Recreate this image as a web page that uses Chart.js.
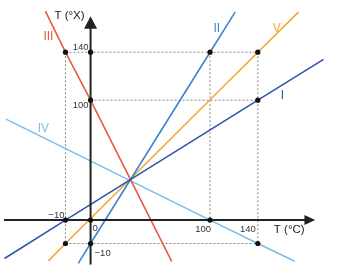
<!DOCTYPE html>
<html>
<head>
<meta charset="utf-8">
<script src="https://cdn.jsdelivr.net/npm/chart.js@4.4.0/dist/chart.umd.min.js"></script>
<style>
  html, body { margin: 0; padding: 0; background: #fff; }
  #wrap { width: 342px; height: 273px; position: relative; }
</style>
</head>
<body>
<div id="wrap"><canvas id="graf"></canvas></div>
<script>
// tick values on each axis
const xTicks = [-10, 100, 140];
const yTicks = [140, 100, -10];

// the five thermometer lines (°C, °X), ends
const seriesNames = ['I', 'II', 'III', 'IV', 'V'];
const lineI   = [[-34.3, -16.4], [-10, 0], [140, 100], [195, 134]];
const lineII  = [[-4.9, -18.5], [0, -10], [100, 140], [121, 173.4]];
const lineIII = [[-18, 174.3], [-10, 140], [0, 100], [67.9, -17.6]];
const lineIV  = [[-33.7, 84.2], [100, 0], [140, -10], [170.9, -17.6]];
const lineV   = [[-16.8, -17.4], [-10, -10], [140, 140], [174, 173.4]];

// marked points
const marked = [[-10, 140], [0, 140], [100, 140], [140, 140], [0, 100], [140, 100],
  [-10, 0], [0, 0], [100, 0], [-10, -10], [0, -10], [140, -10]];

// dashed helper lines
const guides = [
  [[-10, 140], [140, 140]],
  [[0, 100], [140, 100]],
  [[-10, -10], [140, -10]],
  [[-10, 140], [-10, -10]],
  [[100, 140], [100, 0]],
  [[140, 140], [140, -10]]
];

const colors = ['#2f55ad', '#3b86cf', '#ea5843', '#7bbfe8', '#f5a634'];

// the drawing is not to scale below zero: negative values are stretched
class BentScale extends Chart.LinearScale {
  static id = 'bent';
  static defaults = Chart.LinearScale.defaults;
  bend(v) { return v < 0 ? v * this.options.stretch : v; }
  unbend(v) { return v < 0 ? v / this.options.stretch : v; }
  getPixelForValue(value) {
    const lo = this.bend(this.min), hi = this.bend(this.max);
    return this.getPixelForDecimal((this.bend(value) - lo) / (hi - lo));
  }
  getValueForPixel(pixel) {
    const lo = this.bend(this.min), hi = this.bend(this.max);
    return this.unbend(lo + this.getDecimalForPixel(pixel) * (hi - lo));
  }
}
Chart.register(BentScale);

const pts = arr => arr.map(p => ({ x: p[0], y: p[1] }));

const datasets = [];
datasets.push({ data: pts(marked), pointRadius: 2.6, pointBackgroundColor: '#111', pointBorderWidth: 0, showLine: false });
// axes
datasets.push({ data: pts([[-34.5, 0], [180, 0]]), showLine: true, borderColor: '#222', borderWidth: 2, pointRadius: 0 });
datasets.push({ data: pts([[0, -19], [0, 160]]), showLine: true, borderColor: '#222', borderWidth: 2, pointRadius: 0 });
[lineI, lineII, lineIII, lineIV, lineV].forEach((l, i) => {
  datasets.push({ label: seriesNames[i], data: pts(l), showLine: true, borderColor: colors[i], borderWidth: 1.6, pointRadius: 0 });
});
guides.forEach(g => {
  datasets.push({ data: pts(g), showLine: true, borderColor: '#8a8a8a', borderWidth: 1, borderDash: [2, 2], pointRadius: 0 });
});

const txt = {
  id: 'txt',
  afterDatasetsDraw(chart) {
    const { ctx, scales: { x, y } } = chart;
    const X = v => x.getPixelForValue(v), Y = v => y.getPixelForValue(v);
    ctx.save();
    ctx.fillStyle = '#222';
    // arrow heads
    ctx.beginPath();
    ctx.moveTo(X(188), Y(0)); ctx.lineTo(X(179), Y(0) - 5); ctx.lineTo(X(179), Y(0) + 5); ctx.closePath();
    ctx.fill();
    ctx.beginPath();
    ctx.moveTo(X(0), Y(170)); ctx.lineTo(X(0) - 6.5, Y(159.5)); ctx.lineTo(X(0) + 6.5, Y(159.5)); ctx.closePath();
    ctx.fill();

    ctx.font = '9.5px "Liberation Sans", Arial, sans-serif';
    ctx.fillStyle = '#333';
    ctx.textBaseline = 'alphabetic';
    ctx.textAlign = 'right';
    ctx.fillText('\u221210', X(xTicks[0]) - 1, Y(0) - 2);
    ctx.fillText(String(xTicks[1]), X(xTicks[1]) + 1, Y(0) + 11.5);
    ctx.fillText(String(xTicks[2]), X(xTicks[2]) - 2, Y(0) + 11.5);
    ctx.fillText(String(yTicks[0]), X(0) - 2, Y(yTicks[0]) - 2.5);
    ctx.fillText(String(yTicks[1]), X(0) - 2, Y(yTicks[1]) + 7.5);
    ctx.textAlign = 'left';
    ctx.fillText('\u221210', X(0) + 4, Y(yTicks[2]) + 12.5);
    ctx.fillText('0', X(0) + 2, Y(0) + 10.5);

    ctx.font = '11.5px "Liberation Sans", Arial, sans-serif';
    ctx.fillStyle = '#222';
    ctx.textAlign = 'center';
    ctx.fillText('T (\u00b0X)', X(-8.4), Y(168));
    ctx.fillText('T (\u00b0C)', X(166.3), Y(-5.4));

    ctx.font = '12px "Liberation Sans", Arial, sans-serif';
    const spots = [[160.6, 100.8], [105.6, 157.2], [-16.8, 150.4], [-18.8, 73.5], [155.9, 157.2]];
    seriesNames.forEach((n, i) => {
      ctx.fillStyle = colors[i];
      ctx.fillText(n, X(spots[i][0]), Y(spots[i][1]));
    });
    ctx.restore();
  }
};

new Chart(document.getElementById('graf'), {
  type: 'scatter',
  data: { datasets: datasets },
  options: {
    animation: false,
    responsive: true,
    maintainAspectRatio: false,
    events: [],
    layout: { padding: 0 },
    plugins: { legend: { display: false }, tooltip: { enabled: false } },
    scales: {
      x: { type: 'bent', stretch: 2.1, min: -34.5, max: 207.1, display: false },
      y: { type: 'bent', stretch: 1.95, min: -20.9, max: 180.2, display: false }
    }
  },
  plugins: [txt]
});
</script>
</body>
</html>
